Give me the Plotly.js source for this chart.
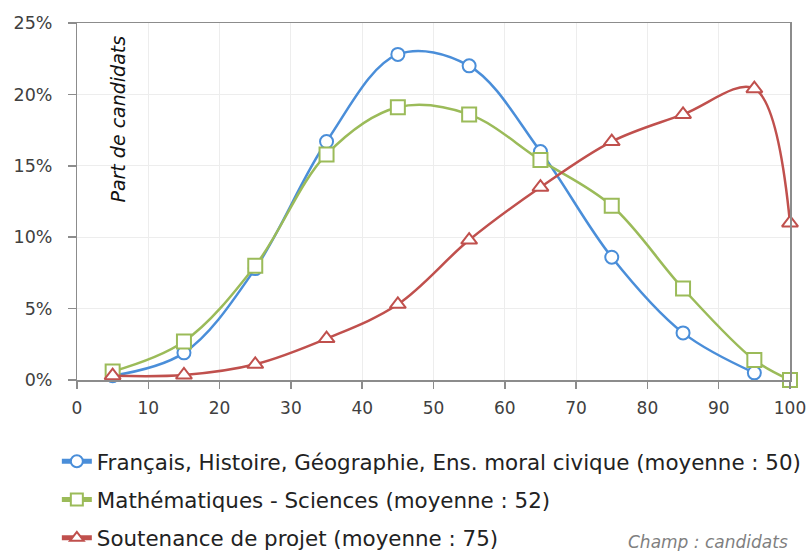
<!DOCTYPE html>
<html>
<head>
<meta charset="utf-8">
<script src="https://cdn.plot.ly/plotly-3.0.1.min.js"></script>
<style>html,body{margin:0;padding:0;background:#fff;}#chart{width:812px;height:551px;}</style>
</head>
<body>
<div id="chart"></div>
<script>
var notesA = [5, 15, 25, 35, 45, 55, 65, 75, 85, 95];
var notesB = [5, 15, 25, 35, 45, 55, 65, 75, 85, 95, 100];
var francais = [0.003, 0.019, 0.078, 0.167, 0.228, 0.220, 0.160, 0.086, 0.033, 0.005];
var maths = [0.006, 0.027, 0.080, 0.158, 0.191, 0.186, 0.154, 0.122, 0.064, 0.014, 0.000];
var soutenance = [0.003, 0.0035, 0.011, 0.029, 0.053, 0.098, 0.135, 0.167, 0.186, 0.204, 0.110];
var seriesNames = [
  "Français, Histoire, Géographie, Ens. moral civique (moyenne : 50)",
  "Mathématiques - Sciences (moyenne : 52)",
  "Soutenance de projet (moyenne : 75)"
];
var xTicks = [0, 10, 20, 30, 40, 50, 60, 70, 80, 90, 100];
var yTicks = [0, 0.05, 0.10, 0.15, 0.20, 0.25];
var yTickLabels = ["0%", "5%", "10%", "15%", "20%", "25%"];

var FONT = "DejaVu Sans, sans-serif";
var TXT = "#404040";

function tr(x, y, name, color, symbol, size, grp) {
  return {
    x: x, y: y, name: name, type: "scatter", mode: "lines+markers",
    legendgroup: grp,
    line: {color: color, width: 2.5, shape: "spline", smoothing: 1},
    marker: {symbol: symbol, size: size, color: "#ffffff", line: {color: color, width: 2}},
    cliponaxis: false
  };
}

var data = [
  tr(notesA, francais, seriesNames[0], "#4A8ED9", "circle", 13, "a"),
  tr(notesB, maths, seriesNames[1], "#9BBB59", "square", 14, "b"),
  tr(notesB, soutenance, seriesNames[2], "#C0504D", "triangle-up", 14, "c"),
  {x: [], y: [], type: "scatter", mode: "markers", yaxis: "y2", showlegend: false, hoverinfo: "skip"}
];

var layout = {
  width: 812, height: 551,
  margin: {l: 76.5, r: 22, t: 23, b: 171, autoexpand: false},
  paper_bgcolor: "#ffffff", plot_bgcolor: "#ffffff",
  font: {family: FONT, color: TXT, size: 18},
  showlegend: true,
  legend: {
    orientation: "v", xref: "container", yref: "container",
    x: 0.07, xanchor: "left", y: 0.2, yanchor: "top",
    font: {family: FONT, size: 21.4, color: "#222222"},
    itemwidth: 30, tracegroupgap: 7.5, itemsizing: "constant",
    bgcolor: "rgba(0,0,0,0)"
  },
  xaxis: {
    range: [0, 100], tickvals: xTicks, ticktext: xTicks.map(String),
    showgrid: true, gridcolor: "#EDEDED", gridwidth: 1,
    showline: true, linecolor: "#8C8C8C", linewidth: 1.5, mirror: true,
    ticks: "outside", ticklen: 7, tickcolor: "#8C8C8C", tickwidth: 1.5,
    tickfont: {family: FONT, size: 17, color: TXT}, tickangle: 0,
    ticklabelstandoff: 5,
    zeroline: false, fixedrange: true
  },
  yaxis: {
    range: [0, 0.25], tickvals: yTicks, showticklabels: false,
    showgrid: true, gridcolor: "#EDEDED", gridwidth: 1,
    showline: true, linecolor: "#8C8C8C", linewidth: 1.5, mirror: true,
    ticks: "outside", ticklen: 8, tickcolor: "#8C8C8C", tickwidth: 1.5,
    zeroline: false, fixedrange: true
  },
  yaxis2: {
    overlaying: "y", side: "left", anchor: "x",
    range: [0, 0.25], tickvals: yTicks, ticktext: yTickLabels,
    showgrid: false, showline: false, zeroline: false,
    ticks: "outside", ticklen: 20, tickcolor: "rgba(0,0,0,0)",
    tickfont: {family: FONT, size: 17.5, color: TXT}, fixedrange: true
  },
  annotations: [
    {text: "<i>Part de candidats</i>", xref: "paper", yref: "paper",
     x: 0.058, y: 0.97, xanchor: "center", yanchor: "top", textangle: -90,
     showarrow: false, font: {family: FONT, size: 19, color: "#111111"}},
    {text: "<i>Champ : candidats</i>", xref: "paper", yref: "paper",
     x: 1.0, y: -0.453, xanchor: "right", yanchor: "middle",
     showarrow: false, font: {family: FONT, size: 17, color: "#7F7F7F"}}
  ]
};

Plotly.newPlot("chart", data, layout, {displayModeBar: false, staticPlot: true});
</script>
</body>
</html>
